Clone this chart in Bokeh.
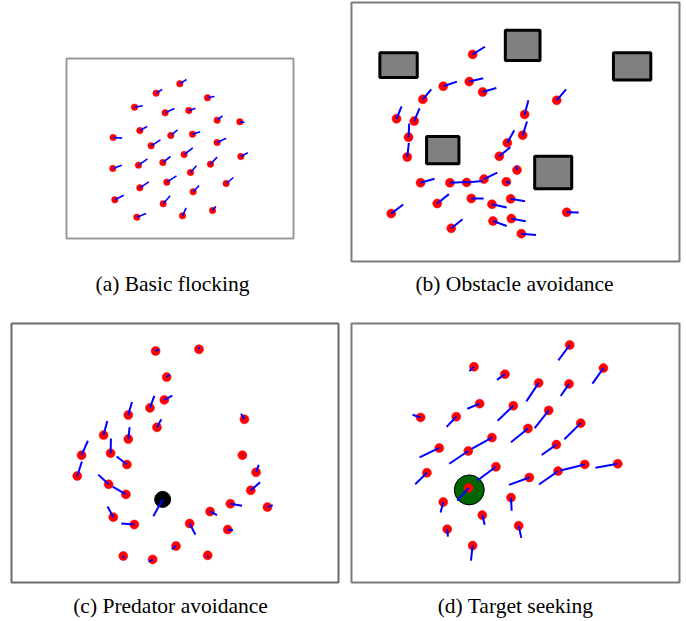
import numpy as np
from bokeh.plotting import figure
from bokeh.models import Range1d
from bokeh.core.properties import value
from bokeh.embed import file_html
from bokeh.resources import INLINE

# ---------------- data (simulation world units, y grows downward) ----------------
# (a) Basic flocking
a_x = [358,287,441,222,314,385,470,538,238,331,396,158,272,470,371,541,157,234,307,450,390,238,319,497,163,398,308,229,366,456]
a_y = [100,128,142,170,187,180,209,214,240,255,251,261,286,276,312,318,354,344,336,341,366,412,395,399,448,424,460,500,496,480]
a_vx = [20,18,21,25,28,20,16,14,22,20,23,27,28,27,26,21,27,27,23,20,18,27,29,22,27,18,21,28,11,10]
a_vy = [-13,-11,-4,-4,-13,-7,-13,2,-12,-17,-7,2,-18,-13,-20,-11,-10,-19,-18,-21,-20,-18,-19,-18,-14,-19,-24,-11,-24,-13]

# (b) Obstacle avoidance
b_x = [368,280,358,398,219,620,140,193,524,176,518,472,172,448,501,212,300,350,402,469,262,364,426,482,124,650,304,429,484,514]
b_y = [160,255,241,272,294,297,352,359,339,407,401,424,466,464,505,543,543,542,532,540,605,590,607,591,635,631,679,657,650,695]
b_vx = [37,41,42,41,25,28,15,16,11,2,13,21,5,33,-2,42,50,48,40,12,35,37,44,43,36,36,34,41,43,44]
b_vy = [-23,-14,-10,-12,-30,-33,-37,-38,-42,-41,-41,-38,-42,-27,-13,-12,-2,-4,-19,4,-28,0,10,7,-27,1,-27,15,8,4]
ob_left = [90,466,790,230,554]
ob_right = [202,570,902,327,665]
ob_top = [155,88,155,405,464]
ob_bottom = [229,178,236,486,561]

# (c) Predator avoidance
c_x = [466,596,499,492,449,384,470,732,310,384,244,331,380,726,231,767,325,377,751,690,801,339,629,402,568,682,527,369,457,622]
c_y = [92,87,170,238,262,283,320,296,343,355,403,397,431,403,465,454,490,520,508,548,558,588,571,610,607,625,674,704,714,702]
c_vx = [10,0,9,24,13,11,13,-10,11,4,19,1,-31,2,14,8,-31,-40,28,35,16,-17,21,-39,17,16,-12,2,-11,1]
c_vy = [-5,-7,-8,-13,-36,-39,-24,-17,-42,-36,-43,-44,-24,-1,-43,-22,-29,-23,-24,6,-6,-32,11,-3,33,2,10,7,7,6]
pred_x = [487]
pred_y = [535]
pred_vx = [-28]
pred_vy = [50]

# (d) Target seeking
d_x = [659,372,465,760,566,657,389,212,319,490,596,692,534,426,355,268,619,231,438,538,624,704,803,356,280,483,397,292,506,368]
d_y = [76,141,163,145,189,192,251,292,290,257,271,309,325,352,392,383,373,457,439,471,452,432,430,502,544,531,583,625,615,674]
d_vx = [-34,-14,-24,-33,-37,-25,-37,-24,-29,-47,-42,-49,-51,-61,-57,-59,-44,-35,-56,-61,-57,-73,-67,-34,-8,2,7,2,8,-5]
d_vy = [46,13,17,46,55,36,15,-8,30,45,53,48,41,34,38,28,31,34,41,22,40,18,12,38,31,39,29,22,36,45]
tgt_x = [358]
tgt_y = [508]

captions = ["(a) Basic flocking", "(b) Obstacle avoidance",
            "(c) Predator avoidance", "(d) Target seeking"]

# world extents of each panel (x0, x1, y_top, y_bottom)
worlds = {
    "a": (18, 699, 24, 564),
    "b": (5, 988, 5, 778),
    "c": (34, 1014, 10, 783),
    "d": (5, 988, 12, 784),
}
# page placement of each panel (left, right, top, bottom) in layout pixels
places = {
    "a": (66, 293, 58, 238),
    "b": (351, 679, 2, 261),
    "c": (11, 338, 323, 582),
    "d": (351, 679, 323, 582),
}
cap_x = [172, 514, 170, 515]
cap_y = [283, 283, 605, 605]

W, H = 686, 621
p = figure(width=W, height=H, output_backend="svg", toolbar_location=None,
           x_range=Range1d(0, W), y_range=Range1d(H, 0),
           min_border=0, min_border_left=0, min_border_right=0,
           min_border_top=0, min_border_bottom=0)
p.xaxis.visible = False
p.yaxis.visible = False
p.grid.visible = False
p.outline_line_color = None
p.background_fill_color = "white"
p.border_fill_color = "white"


def sub(key):
    x0, x1, yt, yb = worlds[key]
    l, r, t, b = places[key]
    return p.subplot(x_source=Range1d(x0, x1), y_source=Range1d(yb, yt),
                     x_target=Range1d(l, r), y_target=Range1d(b, t))


def boids(s, xs, ys, vxs, vys, size, lw):
    xs = np.array(xs, float); ys = np.array(ys, float)
    s.scatter(xs, ys, size=size, fill_color="#ff0000", line_color="#ff0000",
              line_width=0.5, marker="circle")
    s.segment(x0=xs, y0=ys, x1=xs + np.array(vxs), y1=ys + np.array(vys),
              line_color="#0000ff", line_width=lw)


# panel frames
for key, col in (("a", "#9a9a9a"), ("b", "#7a7a7a"), ("c", "#6a6a6a"), ("d", "#7a7a7a")):
    l, r, t, b = places[key]
    p.quad(left=[l], right=[r], top=[t], bottom=[b], fill_color="white",
           line_color=col, line_width=2)

sa = sub("a")
boids(sa, a_x, a_y, a_vx, a_vy, 6.5, 1.6)

sb = sub("b")
sb.quad(left=ob_left, right=ob_right, top=ob_top, bottom=ob_bottom,
        fill_color="#808080", line_color="black", line_width=3)
boids(sb, b_x, b_y, b_vx, b_vy, 9, 2)

sc = sub("c")
sc.scatter(pred_x, pred_y, size=16, fill_color="black", line_color="black", marker="circle")
boids(sc, c_x, c_y, c_vx, c_vy, 9, 2)
sc.segment(x0=pred_x, y0=pred_y, x1=list(np.array(pred_x) + np.array(pred_vx)),
           y1=list(np.array(pred_y) + np.array(pred_vy)), line_color="#0000ff", line_width=2)

sd = sub("d")
sd.scatter(tgt_x, tgt_y, size=30, fill_color="#006400", line_color="black",
           line_width=1, marker="circle")
boids(sd, d_x, d_y, d_vx, d_vy, 9, 2)

p.text(x=cap_x, y=cap_y, text=captions, text_align="center", text_baseline="middle",
       text_font=value("Liberation Serif"), text_font_size=value("21.5px"),
       text_color="black")

open("out.html", "w").write(file_html(p, INLINE))
